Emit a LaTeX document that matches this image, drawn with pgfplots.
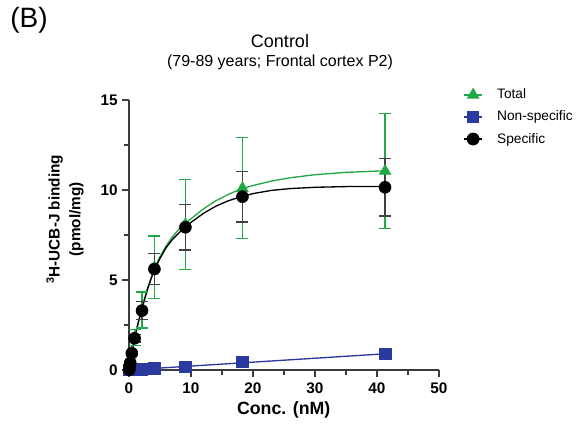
\documentclass[border=0pt]{standalone}
\usepackage{pgfplots}
\pgfplotsset{compat=1.18}
\usepackage{fontspec}
\setmainfont{Liberation Sans}
\definecolor{cgreen}{RGB}{34,168,70}
\definecolor{cblue}{RGB}{42,58,158}
\definecolor{caxis}{RGB}{60,60,60}
\begin{document}
\begin{tikzpicture}
\useasboundingbox (-96.75pt,-45pt) rectangle (335.25pt,277.5pt);
\begin{axis}[
  at={(0,0)}, anchor=south west,
  scale only axis, width=232.5pt, height=202.5pt,
  xmin=0, xmax=50, ymin=0, ymax=15,
  clip=false,
  axis x line*=bottom, axis y line*=left,
  axis line style={caxis, line width=1pt},
  xtick={0,10,20,30,40,50}, ytick={0,5,10,15},
  minor xtick={5,15,25,35,45}, minor ytick={2.5,7.5,12.5},
  tick align=outside,
  major tick length=5pt, minor tick length=3.5pt,
  tick style={caxis, line width=1pt},
  /pgf/number format/assume math mode=true,
  ticklabel style={font=\fontsize{11.5}{13}\selectfont\bfseries},
  xticklabel style={yshift=-1pt},
  legend style={draw=none, fill=none, inner sep=0pt, at={(rel axis cs:1.077,1.052)}, anchor=north west,
    font=\fontsize{10.3}{13}\selectfont, row sep=3.6pt, cells={anchor=west},
    legend image code/.code={\path[draw=none] (0pt,0pt) -- (23pt,0pt); \draw[#1] (0pt,0pt) -- (14pt,0pt); \draw[#1, only marks] plot coordinates {(7pt,0pt)};}},
]
\addlegendimage{cgreen, line width=1pt, mark=triangle*, mark size=4.5pt, mark options={solid, fill=cgreen}}
\addlegendentry{Total}
\addlegendimage{cblue, line width=1pt, mark=square*, mark size=4pt, mark options={solid, fill=cblue}}
\addlegendentry{Non-specific}
\addlegendimage{black, line width=1pt, mark=*, mark size=4.3pt, mark options={solid, fill=black}}
\addlegendentry{Specific}

% fitted curves
\addplot[cgreen, line width=1pt, forget plot] coordinates {
(0,0) (0.5,1.05) (1,1.97) (2,3.35) (3,4.55) (4,5.55) (5,6.3) (6,6.9) (7,7.4) (8,7.8) (9,8.12) (10,8.4) (12,8.95) (14,9.4) (16,9.75) (18,10.05) (20,10.25) (23,10.5) (26,10.68) (30,10.85) (35,10.98) (41.3,11.07)};
\addplot[black, line width=1pt, forget plot] coordinates {
(0,0) (0.5,1.05) (1,1.95) (2,3.3) (3,4.5) (4,5.5) (5,6.2) (6,6.8) (7,7.25) (8,7.6) (9,7.93) (10,8.2) (12,8.7) (14,9.1) (16,9.4) (18,9.62) (20,9.8) (23,9.98) (26,10.08) (30,10.15) (35,10.19) (41.3,10.2)};
\addplot[cblue, line width=1pt, forget plot] coordinates {(0,0) (41.3,0.9)};

% Total
\addplot[only marks, cgreen, mark=triangle*, mark size=5pt, mark options={fill=cgreen}, forget plot,
  error bars/.cd, y dir=both, y explicit, error bar style={cgreen, line width=1pt},
  error mark options={rotate=90, mark size=4.5pt, line width=1pt, cgreen}]
  table[x=x, y=y, y error=e] {
x y e
0.05 0.03 0
0.1 0.25 0
0.2 0.45 0
0.45 1.0 0
0.9 1.8 0.45
2.1 3.34 1.0
4.1 5.71 1.73
9.1 8.09 2.5
18.3 10.1 2.8
41.3 11.05 3.2
};
% Non-specific
\addplot[only marks, cblue, mark=square*, mark size=4.3pt, mark options={fill=cblue}, forget plot] coordinates {
(0.05,0) (0.1,0) (0.2,0.0) (0.45,0.01) (0.9,0.02) (2.1,0.05) (4.1,0.1) (9.1,0.19) (18.3,0.46) (41.3,0.9)};
% Specific
\addplot[only marks, black, mark=*, mark size=4.5pt, mark options={fill=black}, forget plot,
  error bars/.cd, y dir=both, y explicit, error bar style={black!75, line width=1pt},
  error mark options={rotate=90, mark size=4.5pt, line width=1pt, black!75}]
  table[x=x, y=y, y error=e] {
x y e
0.05 0.02 0
0.1 0.2 0
0.2 0.4 0
0.45 0.93 0
0.9 1.76 0.2
2.1 3.30 0.5
4.1 5.61 0.87
9.1 7.93 1.26
18.3 9.63 1.41
41.3 10.15 1.6
};
\end{axis}
\node at (-75pt,262.5pt) {\fontsize{21}{24}\selectfont (B)};
\node at (113.25pt,246.5pt) {\fontsize{13.5}{16}\selectfont Control};
\node at (113.25pt,231pt) {\fontsize{12}{14}\selectfont (79-89 years; Frontal cortex P2)};
\node[rotate=90, align=center, font=\fontsize{11.5}{15.5}\selectfont\bfseries] at (-48pt,113pt) {\textsuperscript{3}H-UCB-J binding\\(pmol/mg)};
\node[font=\fontsize{13.3}{15}\selectfont\bfseries] at (116pt,-30pt) {Conc. (nM)};
\end{tikzpicture}
\end{document}
